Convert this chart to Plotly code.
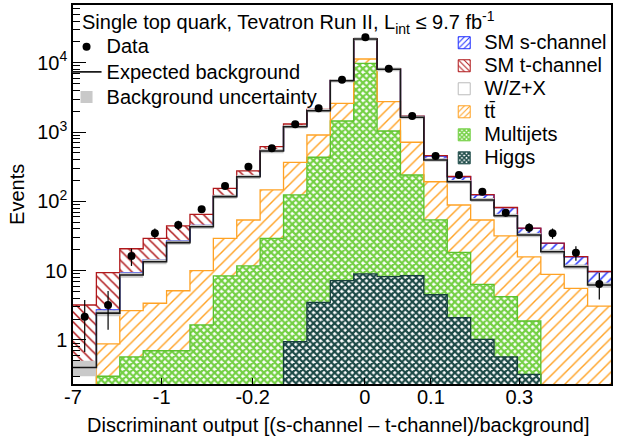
import numpy as np
import plotly.graph_objects as go

# ---------------- data ----------------
tick_pos = [0, 3.79, 7.68, 12.48, 15.3, 19.08, 23]
tick_text = ["-7", "-1", "-0.2", "0", "0.1", "0.3", "0.6"]

higgs = [0, 0, 0, 0, 0, 0, 0, 0, 0, 0.95, 3.5, 7.2, 9.0, 8.2, 8.5, 4.5, 2.1, 1.02, 0.57, 0.32, 0, 0, 0]
multijets = [0.10, 0.30, 0.57, 0.70, 0.70, 1.65, 8.4, 11.7, 29.3, 123, 430, 1438, 9831, 1029, 232,
             49.5, 16.3, 5.34, 3.65, 1.56, 0.10, 0.05, 0.03]
ttbar = [0.08, 0.58, 2.08, 2.69, 4.44, 8.35, 20.9, 42.2, 117, 242, 475, 1155, 1500, 1713, 473,
         138, 70.3, 47.5, 27.5, 14.0, 8.77, 5.52, 3.06]
wzx = [0.22, 1.56, 6.02, 10.1, 20.3, 33.1, 87.7, 173, 387, 831, 1129, 2920, 10660, 5300, 921,
       204, 103, 51.1, 30.5, 16.8, 9.93, 5.83, 3.13]
s_channel = [0.02, 0.28, 0.68, 0.8, 1.4, 2.0, 3, 5, 10, 20, 30, 60, 150, 150, 60,
             56, 35, 19, 18.9, 8.2, 6.0, 4.5, 3.46]
t_channel = [2.78, 6.64, 11.4, 15.0, 17.4, 20, 34.5, 43, 74, 92, 66, 60, 100, 50, 15,
             5, 2, 1, 0.5, 0.3, 0.2, 0.1, 0.05]
bkg_unc = [0.25, 0.10, 0.09, 0.08, 0.07, 0.07, 0.07, 0.07, 0.07, 0.06, 0.06, 0.06, 0.06, 0.06, 0.06,
           0.06, 0.06, 0.07, 0.07, 0.07, 0.08, 0.08, 0.09]

data = [2.17, 3.2, 16.3, 34.7, 45.6, 76.9, 167, 317, 584, 1295, 2205, 5700, 23300, 8220, 1708,
        452, 240, 138, 68.7, 41.7, 34.7, 18.2, 6.43]
err_up = [1.6, 1.9, 4.5, 5.9, 6.8, 8.8, 13, 18, 24, 36, 47, 75, 153, 91, 41,
          21, 15.5, 11.7, 8.3, 6.5, 5.9, 4.3, 2.9]
err_dn = [1.5, 1.8, 4.6, 5.9, 6.8, 8.8, 13, 18, 24, 36, 47, 75, 153, 91, 41,
          21, 15.5, 11.7, 8.3, 6.5, 5.9, 4.3, 2.6]

# ---------------- styles ----------------
FONT = "Liberation Sans, Arial, Helvetica, sans-serif"
TT = "t\u0074\u0304"
styles = [
    # name, fg colour, pattern shape, size, solidity, outline colour
    ("Higgs", "#1d4a47", "x", 5, 0.7, "#17403d"),
    ("Multijets", "#74d044", "x", 5, 0.7, "#5cc22e"),
    (TT, "#ffa224", "/", 8, 0.18, "#ffa224"),
    ("W/Z+X", "#ffffff", "", 8, 0.2, "#444444"),
    ("SM s-channel", "#1f2fff", "/", 7, 0.22, "#1f2fff"),
    ("SM t-channel", "#b0181b", "\\", 7, 0.22, "#b0181b"),
]
legend_rank = {"SM s-channel": 1, "SM t-channel": 2, "W/Z+X": 3, TT: 4, "Multijets": 5, "Higgs": 6}

n = len(data)
centers = np.arange(n) + 0.5
edges = np.arange(n + 1)
comps = np.array([higgs, multijets, ttbar, wzx, s_channel, t_channel], dtype=float)
cum = np.cumsum(comps, axis=0)
bkg_total = cum[3]


def step(vals):
    v = np.asarray(vals, dtype=float)
    v = np.where(v > 0, v, 1e-3)
    return edges, np.append(v, v[-1])


fig = go.Figure()

# stacked histograms drawn as overlaid cumulative bars (top-most first)
for k in reversed(range(len(styles))):
    name, fg, shape, size, sol, lc = styles[k]
    if shape:
        marker = dict(color="white", line=dict(width=0),
                      pattern=dict(shape=shape, fgcolor=fg, bgcolor="white", size=size,
                                   solidity=sol, fillmode="replace"))
    else:
        marker = dict(color="white", line=dict(width=0))
    fig.add_trace(go.Bar(x=centers, y=cum[k], width=1.0, marker=marker,
                         showlegend=False, hoverinfo="skip"))

# outlines of each component
for k, (name, fg, shape, size, sol, lc) in enumerate(styles):
    if k == 3:
        continue
    xs, ys = step(cum[k])
    fig.add_trace(go.Scatter(x=xs, y=ys, mode="lines", line=dict(color=lc, width=1.3, shape="hv"),
                             showlegend=False, hoverinfo="skip"))

# background uncertainty band
unc = np.asarray(bkg_unc)
xs, lo = step(bkg_total * (1 - unc))
xs, hi = step(bkg_total * (1 + unc))
fig.add_trace(go.Scatter(x=xs, y=lo, mode="lines", line=dict(width=0, shape="hv"),
                         showlegend=False, hoverinfo="skip"))
fig.add_trace(go.Scatter(x=xs, y=hi, mode="lines", line=dict(width=0, shape="hv"),
                         fill="tonexty", fillcolor="#c9c9c9", showlegend=False, hoverinfo="skip"))

# expected background line
xs, ys = step(bkg_total)
fig.add_trace(go.Scatter(x=xs, y=ys, mode="lines", line=dict(color="#1a1a1a", width=1.6, shape="hv"),
                         name='<span style="font-size:20px">Expected background</span>',
                         legend="legend", legendrank=2, showlegend=True, hoverinfo="skip"))

# data
fig.add_trace(go.Scatter(x=centers, y=data, mode="markers",
                         marker=dict(color="black", size=8),
                         error_y=dict(type="data", symmetric=False, array=err_up, arrayminus=err_dn,
                                      width=0, thickness=1.2, color="black"),
                         name='<span style="font-size:20px">Data</span>',
                         legend="legend", legendrank=1, showlegend=True))

# legend-only entries
fig.add_trace(go.Bar(x=[None], y=[None], marker=dict(color="#c9c9c9", line=dict(width=0)),
                     name='<span style="font-size:20px">Background uncertainty</span>',
                     legend="legend", legendrank=3, showlegend=True))
for k, (name, fg, shape, size, sol, lc) in enumerate(styles):
    if shape:
        marker = dict(color="white", line=dict(width=1, color=fg),
                      pattern=dict(shape=shape, fgcolor=fg, bgcolor="white", size=4 if shape == "x" else 5,
                                   solidity=sol if shape == "x" else 0.25, fillmode="replace"))
    else:
        marker = dict(color="white", line=dict(width=1, color="#bbbbbb"))
    fig.add_trace(go.Bar(x=[None], y=[None], marker=marker,
                         name=f'<span style="font-size:20px">{name}</span>',
                         legend="legend2", legendrank=legend_rank[name], showlegend=True))

minor_vals = [m * 10.0 ** e for e in range(-1, 5) for m in range(2, 10)]

fig.update_layout(
    width=618, height=443,
    margin=dict(l=73, r=7, t=5, b=59),
    barmode="overlay", bargap=0,
    plot_bgcolor="white", paper_bgcolor="white",
    font=dict(family=FONT, size=20, color="black"),
    xaxis=dict(range=[0, n], tickmode="array", tickvals=tick_pos, ticktext=tick_text,
               ticks="inside", ticklen=6, tickcolor="black", tickwidth=1, ticklabelstandoff=-6,
               showline=True, linecolor="black", linewidth=1.5, mirror=True, automargin=False,
               showgrid=False, zeroline=False, tickfont=dict(size=20, family=FONT)),
    yaxis=dict(type="log", range=[-0.635, 4.834], tickmode="array",
               tickvals=[1, 10, 100, 1000, 10000],
               ticktext=["1", "10", "10<sup>2</sup>", "10<sup>3</sup>", "10<sup>4</sup>"],
               ticks="inside", ticklen=13, tickcolor="black", tickwidth=1,
               minor=dict(tickmode="array", tickvals=minor_vals, ticks="inside", ticklen=7,
                          tickcolor="black", tickwidth=1, showgrid=False),
               showline=True, linecolor="black", linewidth=1.5, mirror=True, automargin=False,
               showgrid=False, zeroline=False, tickfont=dict(size=20, family=FONT)),
    legend=dict(x=-0.012, y=0.936, xanchor="left", yanchor="top", bgcolor="rgba(0,0,0,0)",
                font=dict(size=17, family=FONT), traceorder="normal"),
    legend2=dict(x=0.69, y=0.944, xanchor="left", yanchor="top", bgcolor="rgba(0,0,0,0)",
                 font=dict(size=15.4, family=FONT), traceorder="normal"),
    annotations=[
        dict(text="Single top quark, Tevatron Run II, L<sub>int</sub> \u2264 9.7 fb<sup>-1</sup>",
             xref="paper", yref="paper", x=0.013, y=0.953, xanchor="left", yanchor="middle",
             showarrow=False, font=dict(size=20, family=FONT)),
        dict(text="Discriminant output [(s-channel \u2013 t-channel)/background]",
             xref="paper", yref="paper", x=0.4926, y=-0.108, xanchor="center", yanchor="middle",
             showarrow=False, font=dict(size=20, family=FONT)),
        dict(text="Events", xref="paper", yref="paper", x=-0.104, y=0.499, textangle=-90,
             xanchor="center", yanchor="middle", showarrow=False, font=dict(size=20, family=FONT)),
    ],
)

fig.write_html("out.html", config={"displayModeBar": False},
               post_script="document.body.style.margin='0';")
